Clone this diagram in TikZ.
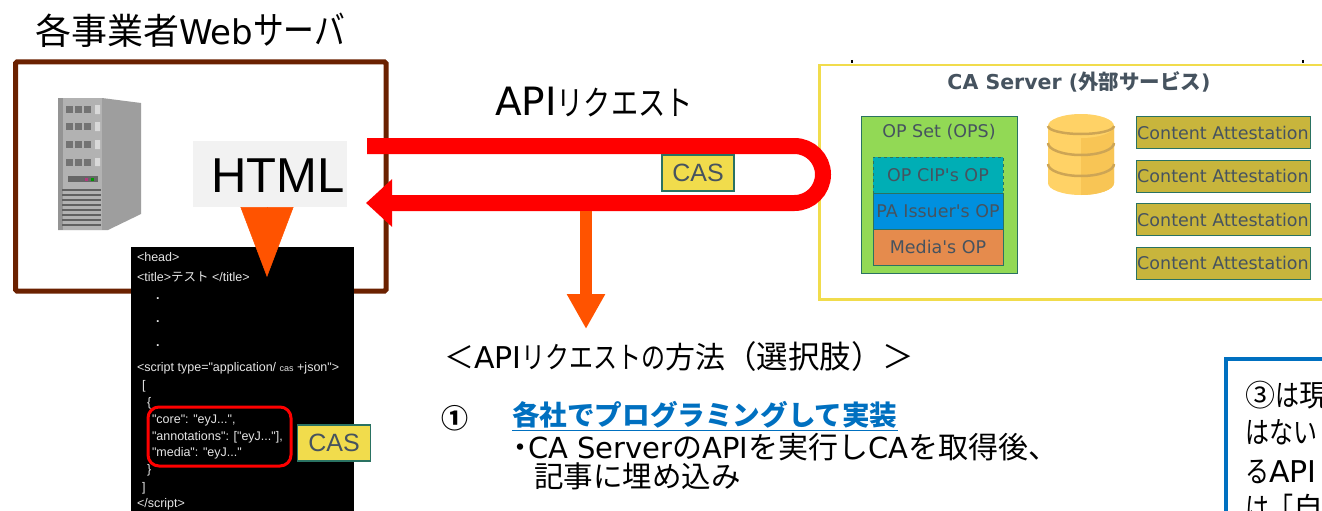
\documentclass[tikz,border=0pt]{standalone}
\usepackage{fontspec}
\usepackage{xcolor}
\usetikzlibrary{arrows.meta,chains,positioning}
\setmainfont{DejaVu Sans}
\newfontfamily\jpfont{Noto Sans CJK JP}
\newfontfamily\jpkana[FakeStretch=0.8]{Noto Sans CJK JP}
\newfontfamily\arialfont{Liberation Sans}
\newcommand\kn[1]{{\jpkana #1}}
\newcommand\ltn[2]{{\normalfont\fontsize{#1}{#1}\selectfont #2}}
\definecolor{boxbrown}{HTML}{6B2100}
\definecolor{looped}{HTML}{FF0000}
\definecolor{downorange}{HTML}{FF5300}
\definecolor{casyellow}{HTML}{F1DC4C}
\definecolor{edgeteal}{HTML}{2A7262}
\definecolor{labelgrey}{HTML}{46535F}
\definecolor{linkblue}{HTML}{0070C0}
\definecolor{attestfill}{HTML}{C8B53C}
\definecolor{opsetfill}{HTML}{92D955}
\definecolor{opcipfill}{HTML}{00AEB5}
\definecolor{oppafill}{HTML}{0090DF}
\definecolor{opmediafill}{HTML}{E58B4D}
\definecolor{dblight}{HTML}{FFD266}
\definecolor{dbdark}{HTML}{F8C555}
\definecolor{dbband}{HTML}{CDA555}
\begin{document}
\begin{tikzpicture}[x=1pt,y=-1pt]
\tikzstyle{every node}=[inner sep=0pt,outer sep=0pt]
\tikzstyle{bigtext}=[font=\jpfont\fontsize{36}{36}\selectfont,text=black]
\tikzstyle{lowtext}=[anchor=west,font=\jpfont\fontsize{29.5}{29.5}\selectfont,text=black]
\tikzstyle{codetext}=[anchor=west,font=\arialfont\fontsize{12.5}{13}\selectfont,text=white!90!black]
\tikzstyle{castag}=[draw=edgeteal,line width=1.2pt,fill=casyellow,text=labelgrey,font=\arialfont\fontsize{25}{25}\selectfont,minimum height=36pt]
\tikzstyle{attest}=[draw=edgeteal,line width=1pt,fill=attestfill,text=labelgrey,font=\fontsize{17.5}{18}\selectfont,minimum width=174pt,minimum height=32pt,on chain=2]
\tikzstyle{opbox}=[draw=edgeteal,line width=1pt,text=labelgrey,font=\fontsize{17.5}{18}\selectfont,minimum width=130pt,minimum height=36pt,on chain=1]
\clip (0,0) rectangle (1322,511);
\useasboundingbox (0,0) rectangle (1322,511);
\fill[white] (0,0) rectangle (1322,511);
\node [bigtext,anchor=west] (title) at (35,30) {各事業者\ltn{34}{Web}{\fontsize{38.5}{38.5}\selectfont\kn{サーバ}}};
\draw [boxbrown,line width=5pt,rounded corners=1.5pt] (15.5,62) rectangle (386,291);
% server
\fill [black!38] (58,98) -- (102,98) -- (141,103) -- (141,214) -- (108,230) -- (58,230) -- cycle;
\fill [black!30] (58,98) rectangle (102,230);
\fill [black!42] (58,98) rectangle (63,230);
\fill [white!70!black] (64,103) rectangle (101,116);
\fill [white!70!black] (64,120) rectangle (101,133);
\fill [white!70!black] (64,138) rectangle (101,151);
\fill [white!70!black] (64,156) rectangle (101,168);
\draw [black!55,line width=7pt,dash pattern=on 7pt off 2pt] (66,109.5) -- (91,109.5);
\draw [black!55,line width=7pt,dash pattern=on 7pt off 2pt] (66,126.5) -- (91,126.5);
\draw [black!55,line width=7pt,dash pattern=on 7pt off 2pt] (66,144.5) -- (91,144.5);
\draw [black!55,line width=7pt,dash pattern=on 7pt off 2pt] (66,162) -- (91,162);
\fill [white!85!black] (95,105) rectangle (100,114) (95,122) rectangle (100,131) (95,140) rectangle (100,149) (95,158) rectangle (100,166);
\fill [black!60] (68,176) rectangle (98,182);
\fill [magenta!70!black] (85,178) rectangle (88,181);
\fill [green!60!black] (91,178) rectangle (94,181);
\draw [black!62,line width=1.4pt] (62,190) -- (101,190) (62,195) -- (101,195) (62,200) -- (101,200) (62,205) -- (101,205) (62,210) -- (101,210) (62,215) -- (101,215) (62,220) -- (101,220) (62,225) -- (101,225);
\node [fill=black!5,minimum width=154pt,minimum height=66pt,font=\arialfont\fontsize{49}{49}\selectfont,text depth=0pt] (html) at (270,174) {\hspace{16pt}\raisebox{-4pt}{HTML}};
\fill [black] (131,247) rectangle (354,511);
\node [codetext] (head) at (137,257) {<head>};
\node [codetext] (titletag) at (137,277) {<title>{\jpfont テスト} </title>};
\node [codetext] (dota) at (156,299) {\textbf{.}};
\node [codetext] (dotb) at (156,322) {\textbf{.}};
\node [codetext] (dotc) at (156,346) {\textbf{.}};
\node [codetext] (script) at (137,368) {<script type="application/ {\fontsize{9}{9}\selectfont cas} +json">};
\node [codetext] (opena) at (142,386) {[};
\node [codetext] (openb) at (147,403) {\{};
\node [codetext] (core) at (152,420) {"core": "eyJ...",};
\node [codetext] (annot) at (152,437) {"annotations": ["eyJ..."],};
\node [codetext] (media) at (152,453) {"media": "eyJ..."};
\node [codetext] (closeb) at (147,470) {\}};
\node [codetext] (closea) at (142,488) {]};
\node [codetext] (endscript) at (137,504) {</script>};
\draw [looped,line width=3pt,rounded corners=11pt] (148,407) rectangle (291,466);
\node [castag,minimum width=73pt,anchor=center] (cascode) at (334,443) {CAS};
\coordinate (htmltip) at (267,277);
\draw [downorange,line width=0.5pt,-{Triangle[length=70pt,width=53pt]}] (html.south -| htmltip) -- (htmltip);
% CA server
\draw [casyellow,line width=2.6pt] (819.5,65) rectangle (1340,299.5);
\draw [black,line width=1.5pt] (852,60) -- (852,63) (1303,60) -- (1303,63);
\node [font=\bfseries\fontsize{20.5}{21}\selectfont,text=labelgrey] (caserver) at (1079,82) {CA Server ({\jpfont 外部サービス})};
\node [draw=edgeteal,line width=1pt,fill=opsetfill,minimum width=156pt,minimum height=157pt] (opset) at (939,194.5) {};
\node [text=labelgrey,font=\fontsize{17.5}{18}\selectfont] (opsetname) at (939,132) {OP Set (OPS)};
\begin{scope}[start chain=1 going below,node distance=0pt]
 \node [opbox,dashed,fill=opcipfill,anchor=north] (opcip) at (938,157) {OP CIP\textquotesingle{}s OP};
 \node [opbox,fill=oppafill] (oppa) {PA Issuer\textquotesingle{}s OP};
 \node [opbox,fill=opmediafill] (opmedia) {Media\textquotesingle{}s OP};
\end{scope}
\fill [dblight] (1048,126) -- (1048,183) arc (180:0:33 and 12) -- (1114,126) -- cycle;
\fill [dbdark] (1081,126) -- (1081,195) arc (90:0:33 and 12) -- (1114,126) -- cycle;
\fill [dblight] (1081,126) ellipse (33 and 12);
\draw [dbband,line width=2.5pt] (1048,126) arc (180:0:33 and 8);
\draw [dbband,line width=2.5pt] (1048,143) arc (180:0:33 and 12);
\draw [dbband,line width=2.5pt] (1048,164) arc (180:0:33 and 12);
\begin{scope}[start chain=2 going below,node distance=11.5pt]
 \node [attest,anchor=north] (attesta) at (1223,116.5) {Content Attestation};
 \node [attest] (attestb) {Content Attestation};
 \node [attest] (attestc) {Content Attestation};
 \node [attest] (attestd) {Content Attestation};
\end{scope}
% request
\node [bigtext,anchor=west,font=\jpfont\fontsize{34}{34}\selectfont] (apilabel) at (495,102) {\ltn{39}{API}\kn{リクエスト}};
\coordinate (apistart) at (367,146);
\coordinate (apiend) at (366,203);
\coordinate (choicetip) at (586,329);
\coordinate (choicetop) at (586,211);
\draw [looped,line width=16pt,-{Triangle[length=26pt,width=46pt]}] (apistart) -- (794.5,146) arc (-90:90:28.5) -- (apiend);
\draw [downorange,line width=12pt,-{Triangle[length=35pt,width=36pt]}] (choicetop) -- (choicetip);
\node [castag,minimum width=72pt] (casloop) at (698,173) {CAS};
\node [lowtext,font=\jpfont\fontsize{30}{30}\selectfont] (choices) at (444,357) {＜\ltn{30}{API}\kn{リクエストの}方法{\fontsize{31.5}{31.5}\selectfont（選択肢）＞}};
\node [lowtext,font=\jpfont\bfseries\fontsize{27}{27}\selectfont] (numone) at (441,418) {①};
\node [lowtext,text=linkblue,font=\jpfont\bfseries\fontsize{27.6}{28}\selectfont] (optionone) at (512,416) {\underline{各社でプログラミングして実装}};
\node [lowtext,font=\jpfont\fontsize{30}{30}\selectfont] (detaila) at (512,447) {\makebox[16pt]{・}\ltn{29}{CA Server}の\ltn{29}{API}を実行し\ltn{29}{CA}を取得後、};
\node [lowtext] (detailb) at (534,476) {記事に埋め込み};
% note
\draw [linkblue,line width=4.5pt,fill=white] (1226,359) rectangle (1340,530);
\node [lowtext,font=\jpfont\fontsize{30}{30}\selectfont] (notea) at (1245,395) {③\kn{は}現};
\node [lowtext,font=\jpfont\fontsize{30}{30}\selectfont] (noteb) at (1245,432) {\kn{はない}};
\node [lowtext,font=\jpfont\fontsize{30}{30}\selectfont] (notec) at (1245,472) {\kn{る}\ltn{30}{API}};
\node [lowtext,font=\jpfont\fontsize{30}{30}\selectfont] (noted) at (1245,508) {\kn{は「}自};
\end{tikzpicture}
\end{document}
